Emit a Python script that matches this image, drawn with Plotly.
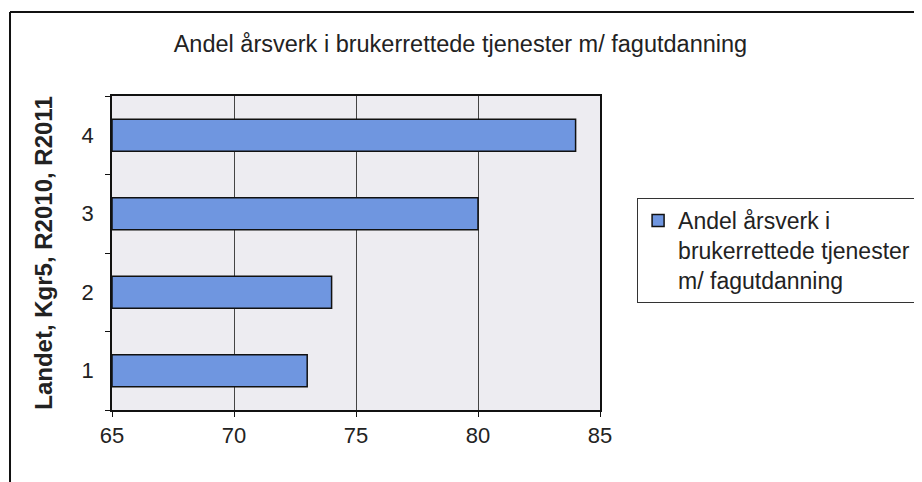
import plotly.graph_objects as go

categories = ["1", "2", "3", "4"]
values = [73, 74, 80, 84]
series_name = "Andel årsverk i<br>brukerrettede tjenester<br>m/ fagutdanning"
title = "Andel årsverk i brukerrettede tjenester m/ fagutdanning"
y_title = "<b>Landet, Kgr5, R2010, R2011</b>"
x_ticks = [65, 70, 75, 80, 85]
x_min = 65

font = "Liberation Sans, Arial, sans-serif"

fig = go.Figure()
fig.add_trace(go.Bar(
    y=categories, x=[v - x_min for v in values], base=x_min,
    orientation="h",
    name=series_name,
    marker=dict(color="#6F96E0", line=dict(color="#111111", width=1.5)),
    width=0.41,
    showlegend=True,
))

# page body has an 8px margin, so the figure is 8px smaller than the window
fig.update_layout(
    width=914, height=474,
    margin=dict(l=104, r=322, t=88, b=72, autoexpand=False),
    paper_bgcolor="white",
    plot_bgcolor="#EDECF1",
    font=dict(family=font, size=22, color="#222222"),
    title=dict(text=title, xref="container", x=0.495, xanchor="center",
               yref="container", y=0.924, yanchor="middle",
               font=dict(size=23.5)),
    xaxis=dict(range=[65, 85], tickvals=x_ticks, showgrid=True,
               gridcolor="#444444", gridwidth=1, zeroline=False,
               showline=True, linecolor="#111111", linewidth=1.5,
               mirror=True,
               ticks="outside", ticklen=5, tickcolor="#111111",
               tickfont=dict(size=22)),
    yaxis=dict(categoryorder="array", categoryarray=categories,
               range=[-0.5, 3.5], showgrid=False,
               showline=True, linecolor="#111111", linewidth=1.5,
               mirror=True,
               ticks="outside", ticklen=5, tickcolor="#111111",
               tickson="boundaries", ticklabelstandoff=12,
               title=dict(text=y_title, font=dict(size=24), standoff=22),
               tickfont=dict(size=22)),
    legend=dict(x=1.076, y=0.675, xanchor="left", yanchor="top",
                valign="top",
                bordercolor="#333333", borderwidth=1,
                bgcolor="white", font=dict(size=23, color="#222222"),
                itemwidth=30),
    shapes=[
        dict(type="line", xref="paper", yref="paper", x0=-0.209, x1=1.66,
             y0=1.2675, y1=1.2675, line=dict(color="#111111", width=2)),
        dict(type="line", xref="paper", yref="paper", x0=-0.209, x1=-0.209,
             y0=1.2675, y1=-0.3, line=dict(color="#111111", width=2)),
    ],
)

fig.write_html("out.html")
